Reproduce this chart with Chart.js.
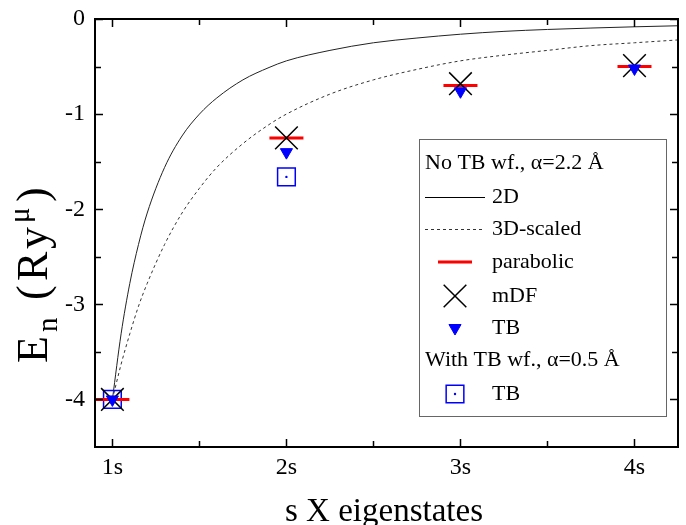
<!DOCTYPE html>
<html>
<head>
<meta charset="utf-8">
<script src="https://cdn.jsdelivr.net/npm/chart.js@4.4.0/dist/chart.umd.min.js"></script>
<style>
  html, body { margin: 0; padding: 0; background: #fff; }
  #wrap { width: 686px; height: 525px; }
</style>
</head>
<body>
<div id="wrap"><canvas id="chart" width="686" height="525"></canvas></div>
<script>
// states on the x axis
const stateNames = ["1s", "2s", "3s", "4s"];
const stateN = [1, 2, 3, 4];

// continuous curves
const curveN = [1.0, 1.05, 1.1, 1.15, 1.2, 1.3, 1.4, 1.5, 1.6, 1.75, 1.9, 2.0, 2.25, 2.5, 2.75, 3.0, 3.25, 3.5, 3.75, 4.0, 4.25];
const curve2D = [-4.00, -3.31, -2.78, -2.37, -2.04, -1.56, -1.23, -1.00, -0.83, -0.64, -0.51, -0.44, -0.33, -0.25, -0.20, -0.16, -0.13, -0.11, -0.095, -0.082, -0.071];
const curve3D = [-4.00, -3.63, -3.31, -3.02, -2.78, -2.37, -2.04, -1.78, -1.56, -1.31, -1.11, -1.00, -0.79, -0.64, -0.53, -0.44, -0.38, -0.33, -0.28, -0.25, -0.22];

// symbols
const parabolic = [-4.00, -1.25, -0.70, -0.50];
const mDF = [-4.00, -1.25, -0.68, -0.49];
const tbNoWf = [-4.00, -1.40, -0.76, -0.52];
const tbWfN = [1, 2];
const tbWf = [-4.00, -1.66];

// ticks
const xMajor = [1, 2, 3, 4];
const xMinor = [1.5, 2.5, 3.5];
const yMajor = [0, -1, -2, -3, -4];
const yMinor = [-0.5, -1.5, -2.5, -3.5];

const SERIF = "'Liberation Serif', 'DejaVu Serif', serif";
const BLUE = "#0000ff";
const RED = "#ff0000";

function pts(xs, ys) {
    return xs.map((x, i) => ({ x: x, y: ys[i] }));
}

const styles = {
    parabolic: { pointStyle: "line", radius: 17, borderWidth: 3, rotation: 0 },
    mdf: { pointStyle: "crossRot", radius: 16, borderWidth: 1.5, rotation: 0 },
    tb: { pointStyle: "triangle", radius: 7, borderWidth: 1, rotation: 180 },
    tbwf: { pointStyle: "rect", radius: 12.5, borderWidth: 1.5, rotation: 0 },
    dot: { pointStyle: "circle", radius: 1.2, borderWidth: 0, rotation: 0 }
};

// frame with inward ticks on all four sides
const framePlugin = {
    id: "frame",
    afterDraw(chart) {
        const ctx = chart.ctx;
        const a = chart.chartArea;
        const xs = chart.scales.x, ys = chart.scales.y;
        ctx.save();
        ctx.strokeStyle = "#000";
        ctx.lineWidth = 1.5;
        const tick = (vals, len) => {
            vals.forEach(v => {
                const px = Math.round(xs.getPixelForValue(v)) + 0.5;
                ctx.beginPath();
                ctx.moveTo(px, a.bottom); ctx.lineTo(px, a.bottom - len);
                ctx.moveTo(px, a.top); ctx.lineTo(px, a.top + len);
                ctx.stroke();
            });
        };
        const tickY = (vals, len) => {
            vals.forEach(v => {
                const py = Math.round(ys.getPixelForValue(v)) + 0.5;
                ctx.beginPath();
                ctx.moveTo(a.left, py); ctx.lineTo(a.left + len, py);
                ctx.moveTo(a.right, py); ctx.lineTo(a.right - len, py);
                ctx.stroke();
            });
        };
        tick(xMajor, 8); tick(xMinor, 6);
        tickY(yMajor, 8); tickY(yMinor, 6);
        ctx.lineWidth = 2;
        ctx.strokeRect(a.left, a.top, a.right - a.left, a.bottom - a.top);

        // axis titles
        ctx.fillStyle = "#000";
        ctx.font = "33px " + SERIF;
        ctx.textAlign = "center";
        ctx.textBaseline = "alphabetic";
        ctx.fillText("s X eigenstates", 384, 521);

        // y title, glyphs placed along the rotated baseline
        ctx.translate(47, 363);
        ctx.rotate(-Math.PI / 2);
        ctx.textAlign = "left";
        const parts = [
            { t: "E", s: 44, at: 0, dy: 0 },
            { t: "n", s: 29, at: 31, dy: 10 },
            { t: "(", s: 44, at: 63, dy: 0 },
            { t: "R", s: 44, at: 82, dy: 0 },
            { t: "y", s: 44, at: 114, dy: 0 },
            { t: "\u03bc", s: 29, at: 140, dy: -18 },
            { t: ")", s: 44, at: 161, dy: 0 }
        ];
        parts.forEach(p => {
            ctx.font = p.s + "px " + SERIF;
            ctx.fillText(p.t, p.at, p.dy);
        });
        ctx.restore();
    }
};

// legend box inside the plot
const legendPlugin = {
    id: "boxLegend",
    afterDatasetsDraw(chart) {
        const ctx = chart.ctx;
        const bx = 419, by = 139, bw = 247, bh = 277;
        ctx.save();
        ctx.fillStyle = "#fff";
        ctx.fillRect(bx, by, bw, bh);
        ctx.strokeStyle = "#666";
        ctx.lineWidth = 1;
        ctx.strokeRect(bx + 0.5, by + 0.5, bw, bh);

        ctx.font = "22px " + SERIF;
        ctx.fillStyle = "#000";
        ctx.textBaseline = "middle";
        ctx.textAlign = "left";
        const symX = 455, txtX = 492;
        const rows = [163, 197, 229, 262, 296, 328, 360, 394];

        ctx.fillText("No TB wf., \u03b1=2.2 \u00c5", 425, rows[0]);

        ctx.strokeStyle = "#000";
        ctx.lineWidth = 1;
        ctx.beginPath(); ctx.moveTo(425, rows[1] + 0.5); ctx.lineTo(485, rows[1] + 0.5); ctx.stroke();
        ctx.fillText("2D", txtX, rows[1]);

        ctx.strokeStyle = "#333";
        ctx.setLineDash([3, 3]);
        ctx.beginPath(); ctx.moveTo(425, rows[2] + 0.5); ctx.lineTo(485, rows[2] + 0.5); ctx.stroke();
        ctx.setLineDash([]);
        ctx.fillText("3D-scaled", txtX, rows[2]);

        ctx.strokeStyle = RED;
        ctx.lineWidth = styles.parabolic.borderWidth;
        Chart.helpers.drawPoint(ctx, styles.parabolic, symX, rows[3]);
        ctx.fillText("parabolic", txtX, rows[3]);

        ctx.strokeStyle = "#000";
        ctx.lineWidth = styles.mdf.borderWidth;
        Chart.helpers.drawPoint(ctx, styles.mdf, symX, rows[4]);
        ctx.fillText("mDF", txtX, rows[4]);

        ctx.fillStyle = BLUE; ctx.strokeStyle = BLUE;
        ctx.lineWidth = 1;
        Chart.helpers.drawPoint(ctx, styles.tb, symX, rows[5]);
        ctx.fillStyle = "#000";
        ctx.fillText("TB", txtX, rows[5]);

        ctx.fillText("With TB wf., \u03b1=0.5 \u00c5", 425, rows[6]);

        ctx.fillStyle = "rgba(0,0,0,0)"; ctx.strokeStyle = BLUE;
        ctx.lineWidth = styles.tbwf.borderWidth;
        Chart.helpers.drawPoint(ctx, styles.tbwf, symX, rows[7]);
        ctx.fillStyle = BLUE;
        ctx.lineWidth = 0;
        Chart.helpers.drawPoint(ctx, styles.dot, symX, rows[7]);
        ctx.fillStyle = "#000";
        ctx.fillText("TB", txtX, rows[7]);
        ctx.restore();
    }
};

function pointSet(label, xs, ys, st, color, fill) {
    return {
        label: label,
        data: pts(xs, ys),
        showLine: false,
        pointStyle: st.pointStyle,
        pointRadius: st.radius,
        pointRotation: st.rotation,
        pointBorderWidth: st.borderWidth,
        borderColor: color,
        pointBorderColor: color,
        pointBackgroundColor: fill,
        backgroundColor: fill
    };
}

new Chart(document.getElementById("chart"), {
    type: "scatter",
    data: {
        datasets: [
            pointSet("TB wf dot", tbWfN, tbWf, styles.dot, BLUE, BLUE),
            pointSet("TB", stateN, tbNoWf, styles.tb, BLUE, BLUE),
            pointSet("mDF", stateN, mDF, styles.mdf, "#000", "#000"),
            pointSet("parabolic", stateN, parabolic, styles.parabolic, RED, RED),
            pointSet("TB wf", tbWfN, tbWf, styles.tbwf, BLUE, "rgba(0,0,0,0)"),
            {
                label: "2D",
                data: pts(curveN, curve2D),
                showLine: true,
                borderColor: "#222",
                borderWidth: 1,
                pointRadius: 0,
                cubicInterpolationMode: "monotone"
            },
            {
                label: "3D-scaled",
                data: pts(curveN, curve3D),
                showLine: true,
                borderColor: "#333",
                borderWidth: 1,
                borderDash: [3, 3],
                pointRadius: 0,
                cubicInterpolationMode: "monotone"
            }
        ]
    },
    options: {
        responsive: false,
        animation: false,
        devicePixelRatio: 1,
        layout: { autoPadding: false, padding: { top: 19, right: 8, left: 0, bottom: 0 } },
        plugins: { legend: { display: false }, tooltip: { enabled: false } },
        scales: {
            x: {
                type: "linear",
                min: 0.9,
                max: 4.25,
                afterBuildTicks: s => { s.ticks = xMajor.concat(xMinor).sort().map(v => ({ value: v })); },
                afterFit: s => { s.height = 78; s.paddingLeft = 0; s.paddingRight = 0; },
                grid: { display: false, drawTicks: false },
                border: { display: false },
                ticks: {
                    autoSkip: false,
                    maxRotation: 0,
                    padding: 9,
                    color: "#000",
                    font: { family: SERIF, size: 24, lineHeight: 1 },
                    callback: v => { const i = stateN.indexOf(v); return i >= 0 ? stateNames[i] : ""; }
                }
            },
            y: {
                type: "linear",
                min: -4.5,
                max: 0,
                afterBuildTicks: s => { s.ticks = yMajor.concat(yMinor).map(v => ({ value: v })); },
                afterFit: s => { s.width = 95; s.paddingTop = 0; s.paddingBottom = 0; },
                grid: { display: false, drawTicks: false },
                border: { display: false },
                ticks: {
                    autoSkip: false,
                    padding: 10,
                    color: "#000",
                    font: { family: SERIF, size: 24, lineHeight: 1 },
                    callback: v => (yMajor.indexOf(v) >= 0 ? String(v) : "")
                }
            }
        }
    },
    plugins: [legendPlugin, framePlugin]
});
</script>
</body>
</html>
